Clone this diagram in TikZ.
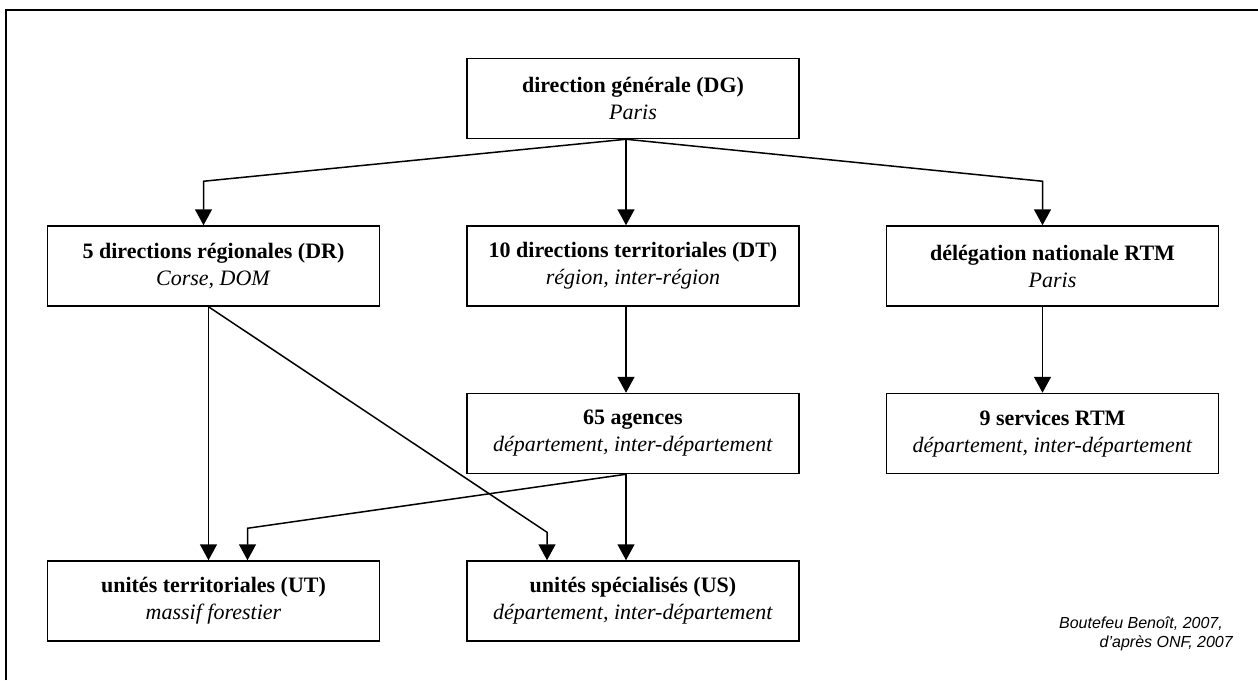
\documentclass[tikz,border=0pt]{standalone}
\usepackage{fontspec}
\setmainfont{Liberation Serif}
\newfontfamily\creditfont{Liberation Sans}
\usetikzlibrary{arrows.meta, positioning}

\begin{document}
\begin{tikzpicture}[
        x=1pt, y=-1pt,
        node distance=86pt and 86pt,
        orgbox/.style={rectangle, draw=black, fill=white, line width=1.5pt, minimum width=332pt, minimum height=80pt, inner sep=0pt, align=center, font=\fontsize{22}{27}\selectfont},
        arrow/.style={-{Triangle[width=17pt, length=16pt]}, line width=1.5pt}
    ]
    \useasboundingbox (0,0) rectangle (1258,680);
    % frame
    \draw[line width=2pt] (6,680) -- (6,10) -- (1258,10);

    % Main nodes
    \node[orgbox] (dg) at (633,98.5) {\textbf{direction générale (DG)}\\\textit{Paris}};
    \node[orgbox, below=of dg] (dt) {\textbf{10 directions territoriales (DT)}\\\textit{région, inter-région}};
    \node[orgbox, left=of dt] (dr) {\textbf{5 directions régionales (DR)}\\\textit{Corse, DOM}};
    \node[orgbox, right=of dt] (rtm) {\textbf{délégation nationale RTM}\\\textit{Paris}};

    \node[orgbox, below=of dt] (agences) {\textbf{65 agences}\\\textit{département, inter-département}};
    \node[orgbox, below=of rtm] (services) {\textbf{9 services RTM}\\\textit{département, inter-département}};

    \node[orgbox, below=of agences] (us) {\textbf{unités spécialisés (US)}\\\textit{département, inter-département}};
    \node[orgbox, left=of us] (ut) {\textbf{unités territoriales (UT)}\\\textit{massif forestier}};

    % Source
    \node[anchor=north east, inner sep=0pt, align=right, font=\creditfont\itshape\fontsize{16}{19}\selectfont] (source) at (1233,617) {Boutefeu Benoît, 2007,\hspace*{10pt}\\d’après ONF, 2007};

    % Arrows
    \draw[arrow] ([xshift=-7pt]dg.south) -- ([xshift=-10pt, yshift=44pt]dr.north) -- ([xshift=-10pt]dr.north);
    \draw[arrow] ([xshift=-7pt]dg.south) -- ([xshift=-7pt]dt.north);
    \draw[arrow] ([xshift=-7pt]dg.south) -- ([xshift=-10pt, yshift=44pt]rtm.north) -- ([xshift=-10pt]rtm.north);
    \draw[arrow] ([xshift=-7pt]dt.south) -- ([xshift=-7pt]agences.north);
    \draw[arrow] ([xshift=-10pt]rtm.south) -- ([xshift=-10pt]services.north);
    \draw[arrow] ([xshift=-5pt]dr.south) -- ([xshift=-5pt]ut.north);
    \draw[arrow] ([xshift=-5pt]dr.south) -- ([xshift=-86pt, yshift=28pt]us.north) -- ([xshift=-86pt]us.north);
    \draw[arrow] ([xshift=-7pt]agences.south) -- ([xshift=34pt, yshift=32pt]ut.north) -- ([xshift=34pt]ut.north);
    \draw[arrow] ([xshift=-7pt]agences.south) -- ([xshift=-7pt]us.north);

    \end{tikzpicture}
\end{document}
